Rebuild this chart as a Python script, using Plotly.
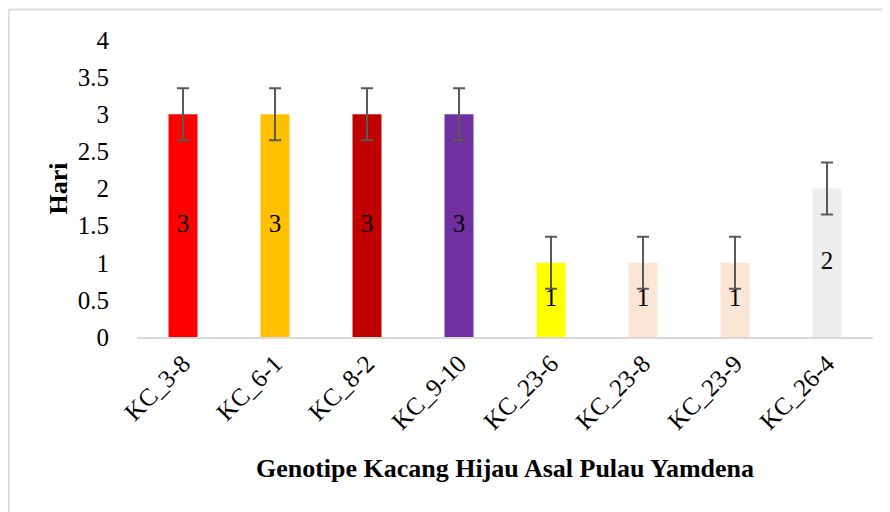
import plotly.graph_objects as go

categories = ["KC_3-8", "KC_6-1", "KC_8-2", "KC_9-10", "KC_23-6", "KC_23-8", "KC_23-9", "KC_26-4"]
values = [3, 3, 3, 3, 1, 1, 1, 2]
errors = [0.35, 0.35, 0.35, 0.35, 0.35, 0.35, 0.35, 0.35]
colors = ["#FF0000", "#FFC000", "#C00000", "#7030A0", "#FFFF00", "#FBE5D6", "#FBE5D6", "#EDEDED"]
y_ticks = [0, 0.5, 1, 1.5, 2, 2.5, 3, 3.5, 4]
y_ticktext = ["0", "0.5", "1", "1.5", "2", "2.5", "3", "3.5", "4"]

FONT = "Liberation Serif"
FS = 25

fig = go.Figure()
fig.add_trace(go.Bar(
    x=categories,
    y=values,
    width=0.315,
    marker=dict(color=colors, line=dict(width=0)),
    error_y=dict(type="data", array=errors, visible=True, color="#595959", thickness=2, width=6),
    hoverinfo="skip",
))
# data labels centred in each bar
fig.add_trace(go.Scatter(
    x=categories,
    y=[v / 2 for v in values],
    mode="text",
    text=[str(v) for v in values],
    textposition="middle center",
    textfont=dict(family=FONT, size=FS, color="black"),
    hoverinfo="skip",
))

fig.update_layout(
    width=882, height=504,
    margin=dict(l=129, r=17, t=32, b=175),
    paper_bgcolor="white",
    plot_bgcolor="white",
    showlegend=False,
    font=dict(family=FONT, size=FS, color="black"),
    xaxis=dict(
        tickangle=-45,
        showline=True, linecolor="#D9D9D9", linewidth=2,
        ticks="", showgrid=False,
        tickfont=dict(family=FONT, size=FS, color="black"),
        title=dict(text="<b>Genotipe Kacang Hijau Asal Pulau Yamdena</b>",
                   font=dict(family=FONT, size=26, color="black"), standoff=25),
    ),
    yaxis=dict(
        range=[0, 4],
        tickvals=y_ticks, ticktext=y_ticktext,
        showline=False, showgrid=False, zeroline=False,
        ticks="outside", ticklen=22, tickcolor="rgba(0,0,0,0)",
        tickfont=dict(family=FONT, size=FS, color="black"),
    ),
    annotations=[
        dict(text="<b>Hari</b>", xref="paper", yref="paper", x=-0.1073, y=0.5,
             textangle=-90, showarrow=False, xanchor="center", yanchor="middle",
             font=dict(family=FONT, size=26, color="black")),
    ],
    shapes=[
        dict(type="line", xref="paper", yref="paper", x0=-0.1746, x1=1.3, y0=1.1027, y1=1.1027,
             line=dict(color="#D9D9D9", width=2)),
        dict(type="line", xref="paper", yref="paper", x0=-0.1746, x1=-0.1746, y0=1.1027, y1=-0.8,
             line=dict(color="#D9D9D9", width=2)),
    ],
)

fig.write_html("out.html")
